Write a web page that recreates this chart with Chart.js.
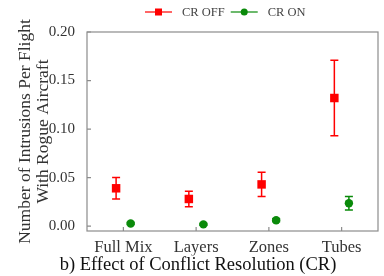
<!DOCTYPE html>
<html>
<head>
<meta charset="utf-8">
<script src="https://cdn.jsdelivr.net/npm/chart.js@4"></script>
<style>
  html, body { margin: 0; padding: 0; background: #fff; }
  #wrap { width: 384px; height: 276px; }
</style>
</head>
<body>
<div id="wrap"><canvas id="chart" width="384" height="276"></canvas></div>
<script>
// Categories and values
const categories = ['Full Mix', 'Layers', 'Zones', 'Tubes'];
const crOffMean = [0.039, 0.028, 0.043, 0.132];
const crOffErr  = [0.011, 0.008, 0.0125, 0.039];
const crOnMean  = [0.0028, 0.0018, 0.006, 0.0236];
const crOnErr   = [0.001, 0.001, 0.0015, 0.007];
const yTicks = [0, 0.05, 0.10, 0.15, 0.20];

const RED = '#ff0000';
const GREEN = '#0a8a0a';
const SHIFT = 0.1;

function toPoints(means, dx) {
    return means.map((v, i) => ({ x: i + dx, y: v }));
}

// error bars drawn under the markers
const errorBars = {
    id: 'errorBars',
    beforeDatasetsDraw(chart) {
        const { ctx, scales: { x, y } } = chart;
        const sets = [[crOffMean, crOffErr, -SHIFT, RED], [crOnMean, crOnErr, SHIFT, GREEN]];
        ctx.save();
        ctx.lineWidth = 1.5;
        sets.forEach(([m, e, dx, col]) => {
            ctx.strokeStyle = col;
            m.forEach((v, i) => {
                const px = x.getPixelForValue(i + dx);
                const top = y.getPixelForValue(v + e[i]);
                const bot = y.getPixelForValue(v - e[i]);
                ctx.beginPath();
                ctx.moveTo(px, top); ctx.lineTo(px, bot);
                ctx.moveTo(px - 4, top); ctx.lineTo(px + 4, top);
                ctx.moveTo(px - 4, bot); ctx.lineTo(px + 4, bot);
                ctx.stroke();
            });
        });
        ctx.restore();
    }
};

// box frame, inward ticks and matplotlib-like legend
const frame = {
    id: 'frame',
    afterDraw(chart) {
        const { ctx, chartArea: a, scales: { x, y } } = chart;
        ctx.save();
        ctx.strokeStyle = '#8c8c8c';
        ctx.lineWidth = 1.2;
        ctx.strokeRect(a.left, a.top, a.right - a.left, a.bottom - a.top);
        ctx.beginPath();
        categories.forEach((c, i) => {
            const px = x.getPixelForValue(i);
            ctx.moveTo(px, a.bottom); ctx.lineTo(px, a.bottom - 4);
        });
        yTicks.forEach(v => {
            const py = y.getPixelForValue(v);
            ctx.moveTo(a.left, py); ctx.lineTo(a.left + 4, py);
        });
        ctx.stroke();

        // legend
        const items = [['CR OFF', RED, 'rect'], ['CR ON', GREEN, 'circle']];
        ctx.font = '12.5px "Liberation Serif"';
        ctx.textBaseline = 'middle';
        let lx = 145;
        const ly = 12;
        items.forEach(([label, col, shape]) => {
            ctx.strokeStyle = col;
            ctx.fillStyle = col;
            ctx.lineWidth = 1.2;
            ctx.beginPath();
            ctx.moveTo(lx, ly); ctx.lineTo(lx + 27, ly);
            ctx.stroke();
            if (shape === 'rect') {
                ctx.fillRect(lx + 10, ly - 3.5, 7, 7);
            } else {
                ctx.beginPath();
                ctx.arc(lx + 13.5, ly, 3.5, 0, Math.PI * 2);
                ctx.fill();
            }
            ctx.fillStyle = '#444';
            ctx.fillText(label, lx + 37, ly + 1);
            lx += 37 + ctx.measureText(label).width + 6;
        });
        ctx.restore();
    }
};

const chart = new Chart(document.getElementById('chart'), {
    type: 'scatter',
    data: {
        datasets: [
            {
                label: 'CR OFF',
                data: toPoints(crOffMean, -SHIFT),
                backgroundColor: RED,
                borderColor: RED,
                pointStyle: 'rect',
                pointRadius: 6,
                borderWidth: 0
            },
            {
                label: 'CR ON',
                data: toPoints(crOnMean, SHIFT),
                backgroundColor: GREEN,
                borderColor: GREEN,
                pointStyle: 'circle',
                pointRadius: 4.2,
                borderWidth: 0
            }
        ]
    },
    options: {
        responsive: false,
        animation: false,
        layout: { padding: { top: 32, right: 5, left: 17, bottom: 0 } },
        plugins: {
            legend: { display: false },
            tooltip: { enabled: false },
            title: {
                display: true,
                position: 'bottom',
                text: 'b) Effect of Conflict Resolution (CR)',
                color: '#111',
                font: { family: 'Liberation Serif', size: 18.5, weight: 'normal', lineHeight: 1.0 },
                padding: { top: 0, bottom: 2 }
            }
        },
        scales: {
            x: {
                type: 'linear',
                min: -0.5,
                max: 3.5,
                afterBuildTicks: (axis) => {
                    axis.ticks = categories.map((c, i) => ({ value: i }));
                },
                grid: { display: false },
                border: { display: false },
                ticks: {
                    callback: (v) => categories[v],
                    color: '#333',
                    font: { family: 'Liberation Serif', size: 16.5, lineHeight: 1.0 },
                    padding: 0,
                    maxRotation: 0
                }
            },
            y: {
                min: -0.005,
                max: 0.20,
                afterBuildTicks: (axis) => {
                    axis.ticks = yTicks.map(v => ({ value: v }));
                },
                afterFit: (axis) => {
                    axis.width = 70;
                },
                grid: { display: false },
                border: { display: false },
                ticks: {
                    callback: (v) => v.toFixed(2),
                    color: '#333',
                    font: { family: 'Liberation Serif', size: 15 },
                    padding: 4
                },
                title: {
                    display: true,
                    text: ['Number of Intrusions Per Flight', 'With Rogue Aircraft'],
                    color: '#333',
                    font: { family: 'Liberation Serif', size: 17.5, lineHeight: 1.0 },
                    padding: { top: 0, bottom: 0 }
                }
            }
        }
    },
    plugins: [errorBars, frame]
});
</script>
</body>
</html>
